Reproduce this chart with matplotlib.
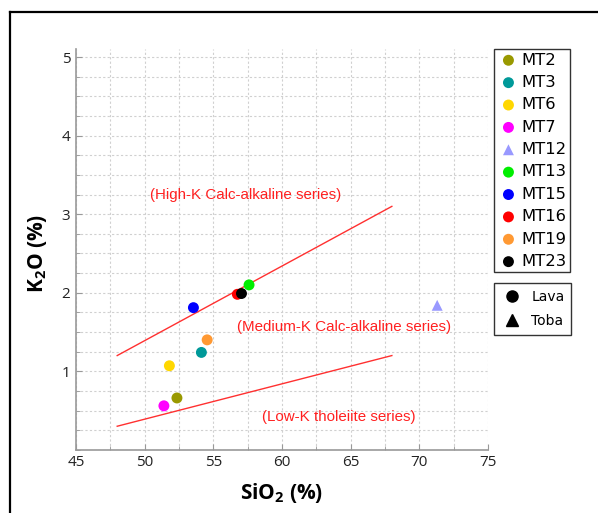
import matplotlib
matplotlib.use("Agg")
import matplotlib.pyplot as plt
from matplotlib.lines import Line2D
from matplotlib.ticker import MultipleLocator

# --- data ------------------------------------------------------------------
samples = ["MT2", "MT3", "MT6", "MT7", "MT12", "MT13", "MT15", "MT16", "MT19", "MT23"]
sio2 = [52.35, 54.13, 51.8, 51.4, 71.3, 57.6, 53.55, 56.75, 54.55, 57.05]
k2o = [0.66, 1.24, 1.07, 0.56, 1.84, 2.10, 1.81, 1.98, 1.40, 1.99]
rock = ["Lava", "Lava", "Lava", "Lava", "Toba", "Lava", "Lava", "Lava", "Lava", "Lava"]
colors = ["#999900", "#009999", "#ffd700", "#ff00ff", "#9999ff",
          "#00ee00", "#0000ff", "#ff0000", "#ff9933", "#000000"]

# Peccerillo & Taylor series boundaries
high_med_x = [48, 68]
high_med_y = [1.2, 3.1]
med_low_x = [48, 68]
med_low_y = [0.3, 1.2]

series_labels = ["(High-K Calc-alkaline series)",
                 "(Medium-K Calc-alkaline series)",
                 "(Low-K tholeiite series)"]
series_pos = [(50.4, 3.24), (56.73, 1.56), (58.55, 0.42)]

markers = {"Lava": "o", "Toba": "^"}

plt.rcParams["mathtext.default"] = "regular"
TICKFONT = ["Open Sans", "DejaVu Sans"]

fig = plt.figure(figsize=(5.98, 5.13), dpi=100)
ax = fig.add_axes([76 / 598, 1 - 449.8 / 513, 412 / 598, 400.5 / 513])

# boundary lines + series names
ax.plot(high_med_x, high_med_y, color="#ff3030", lw=1.0, zorder=2)
ax.plot(med_low_x, med_low_y, color="#ff3030", lw=1.0, zorder=2)
for txt, (x, y) in zip(series_labels, series_pos):
    ax.text(x, y, txt, color="#ff2020", fontsize=10.9, family="Liberation Sans",
            va="center", ha="left")

handles = []
for name, x, y, r, c in zip(samples, sio2, k2o, rock, colors):
    h = ax.scatter([x], [y], s=62, marker=markers[r], color=c,
                   edgecolors="none", label=name, zorder=3)
    handles.append(h)

ax.set_xlim(45, 75)
ax.set_ylim(0, 5.1)
ax.set_xticks(range(45, 76, 5))
ax.set_yticks([1, 2, 3, 4, 5])
ax.xaxis.set_minor_locator(MultipleLocator(2.5))
ax.yaxis.set_minor_locator(MultipleLocator(0.25))
ax.grid(True, which="both", color="#d0d0d0", lw=0.8, ls=(0, (2, 2)), zorder=0)
ax.set_axisbelow(True)

for s in ("top", "right"):
    ax.spines[s].set_visible(False)
for s in ("left", "bottom"):
    ax.spines[s].set_color("#999999")
    ax.spines[s].set_linewidth(1.2)
ax.tick_params(which="major", direction="in", length=4, color="#999999",
               labelsize=11, labelcolor="#222222", pad=4)
ax.tick_params(which="minor", direction="in", length=3, color="#999999")
for lab in ax.get_xticklabels() + ax.get_yticklabels():
    lab.set_family(TICKFONT)

ax.set_xlabel("SiO$_2$ (%)", fontsize=15, fontweight="bold", family=TICKFONT)
ax.set_ylabel("K$_2$O (%)", fontsize=15, fontweight="bold", family=TICKFONT)
ax.xaxis.set_label_coords(0.5, -0.078)
ax.yaxis.set_label_coords(-0.066, 0.49)

# legends (samples + rock type)
leg1 = fig.legend(handles=handles, loc="upper left",
                  bbox_to_anchor=(493.7 / 598, 1 - 49.3 / 513),
                  frameon=True, fancybox=False, edgecolor="black",
                  prop={"family": "DejaVu Sans", "size": 11.8},
                  labelspacing=0.45, handletextpad=0.1, handlelength=1.4,
                  borderpad=0.2, borderaxespad=0)
leg1.get_frame().set_linewidth(1.0)

rock_handles = [Line2D([], [], ls="none", marker="o", color="black", ms=8, label="Lava"),
                Line2D([], [], ls="none", marker="^", color="black", ms=8, label="Toba")]
leg2 = fig.legend(handles=rock_handles, loc="upper left",
                  bbox_to_anchor=(493.7 / 598, 1 - 282.7 / 513),
                  frameon=True, fancybox=False, edgecolor="black",
                  prop={"family": "DejaVu Sans", "size": 10},
                  labelspacing=0.75, handletextpad=0.6, handlelength=1.6,
                  borderpad=0.5, borderaxespad=0)
leg2.get_frame().set_linewidth(1.0)

# outer frame (top and left edges only are visible in the crop)
fig.add_artist(Line2D([10 / 598, 1], [1 - 12 / 513, 1 - 12 / 513],
                      color="black", lw=1.6, transform=fig.transFigure))
fig.add_artist(Line2D([10 / 598, 10 / 598], [0, 1 - 12 / 513],
                      color="black", lw=1.6, transform=fig.transFigure))

fig.savefig("out.png", dpi=100)
